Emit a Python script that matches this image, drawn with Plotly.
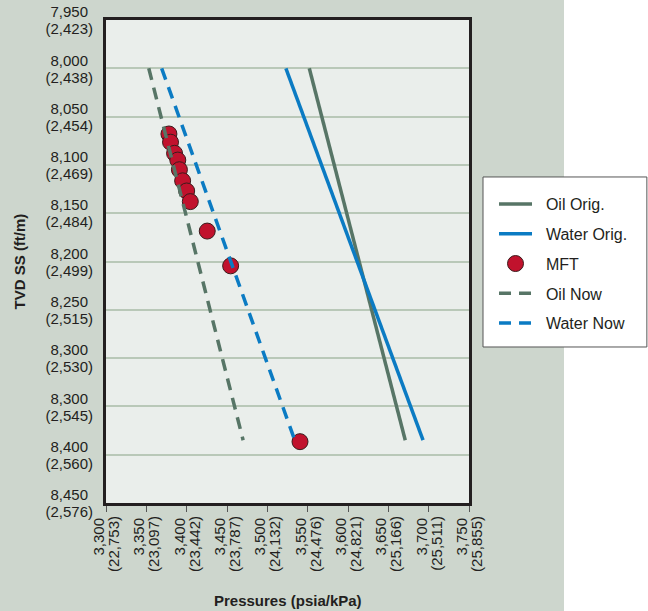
import plotly.graph_objects as go

# ---- data ----
depth_ends = [8000, 8385]
oil_orig_p = [3552, 3671]
water_orig_p = [3523, 3693]
oil_now_p = [3353, 3470]
water_now_p = [3369, 3534]

mft_p = [3378, 3380, 3385, 3389, 3391, 3395, 3400, 3404.5, 3425.5, 3454.5, 3540.5]
mft_d = [8068, 8076.5, 8088, 8095, 8105, 8116.5, 8127, 8138, 8168.5, 8204.5, 8386.5]

x_tick_vals = [3300, 3350, 3400, 3450, 3500, 3550, 3600, 3650, 3700, 3750]
x_tick_psia = ["3,300", "3,350", "3,400", "3,450", "3,500", "3,550", "3,600", "3,650", "3,700", "3,750"]
x_tick_kpa = ["(22,753)", "(23,097)", "(23,442)", "(23,787)", "(24,132)", "(24,476)", "(24,821)",
              "(25,166)", "(25,511)", "(25,855)"]
y_tick_vals = [7950, 8000, 8050, 8100, 8150, 8200, 8250, 8300, 8350, 8400, 8450]
y_tick_ft = ["7,950", "8,000", "8,050", "8,100", "8,150", "8,200", "8,250", "8,300", "8,300", "8,400", "8,450"]
y_tick_m = ["(2,423)", "(2,438)", "(2,454)", "(2,469)", "(2,484)", "(2,499)", "(2,515)", "(2,530)",
            "(2,545)", "(2,560)", "(2,576)"]

OIL = "#577566"
WATER = "#0b7bc3"
RED = "#c1122d"
INK = "#231f20"
FONT = "Liberation Sans, Arial, sans-serif"
NB = "\u00a0\u00a0"

fig = go.Figure()
fig.add_trace(go.Scatter(x=oil_orig_p, y=depth_ends, mode="lines", name=NB + "Oil Orig.",
                         line=dict(color=OIL, width=3.5), legendgroup="a"))
fig.add_trace(go.Scatter(x=water_orig_p, y=depth_ends, mode="lines", name=NB + "Water Orig.",
                         line=dict(color=WATER, width=3.5), legendgroup="b"))
fig.add_trace(go.Scatter(x=mft_p, y=mft_d, mode="markers", name=NB + "MFT",
                         marker=dict(color=RED, size=16, line=dict(color="#3a1c1c", width=1)),
                         legendgroup="c"))
fig.add_trace(go.Scatter(x=oil_now_p, y=depth_ends, mode="lines", name=NB + "Oil Now",
                         line=dict(color=OIL, width=3.5, dash="12px,8px"), legendgroup="d"))
fig.add_trace(go.Scatter(x=water_now_p, y=depth_ends, mode="lines", name=NB + "Water Now",
                         line=dict(color=WATER, width=3.5, dash="12px,8px"), legendgroup="e"))
# empty helper trace so the second (unit) axes are drawn
fig.add_trace(go.Scatter(x=[], y=[], xaxis="x2", yaxis="y2", showlegend=False, hoverinfo="skip"))

tickfont = dict(size=15, color=INK, family=FONT)
common_x = dict(range=[3300, 3750], tickvals=x_tick_vals, tickangle=-90, showgrid=False,
                zeroline=False, tickfont=tickfont, ticks="outside", ticklen=6)
common_y = dict(range=[8450, 7950], tickvals=y_tick_vals, zeroline=False, tickfont=tickfont,
                ticks="", ticklabelstandoff=12)

fig.update_layout(
    width=648, height=611,
    margin=dict(l=106, r=179, t=20, b=108, autoexpand=False),
    paper_bgcolor="#cdd6cd",
    plot_bgcolor="#eaeeeb",
    font=dict(family=FONT, size=14, color=INK),
    showlegend=True,
    legend=dict(x=1.0689, y=0.6542, xanchor="left", yanchor="top",
                bgcolor="rgba(0,0,0,0)", borderwidth=0,
                font=dict(size=16, color=INK), tracegroupgap=6,
                itemwidth=33),
    xaxis=dict(**common_x, ticktext=x_tick_psia, tickcolor="#555555", ticklabelshift=-7,
               showline=True, mirror=True, linecolor=INK, linewidth=3),
    xaxis2=dict(**common_x, ticktext=x_tick_kpa, tickcolor="rgba(0,0,0,0)", ticklabelshift=8,
                overlaying="x", side="bottom", anchor="y", showline=False),
    yaxis=dict(**common_y, ticktext=y_tick_ft, ticklabelshift=8,
               showgrid=True, gridcolor="#b9c8b8", gridwidth=1.5,
               showline=True, mirror=True, linecolor=INK, linewidth=3),
    yaxis2=dict(**common_y, ticktext=y_tick_m, ticklabelshift=-9, showgrid=False,
                overlaying="y", side="left", anchor="x", showline=False),
    shapes=[
        dict(type="rect", xref="paper", yref="paper", x0=1.2617, x1=2, y0=-1, y1=2,
             fillcolor="#ffffff", line=dict(width=0), layer="below"),
        dict(type="rect", xref="paper", yref="paper", x0=1.0386, x1=1.490, y0=0.3230, y1=0.675,
             fillcolor="#ffffff", line=dict(color="#555555", width=1), layer="above"),
    ],
    annotations=[
        dict(text="<b>Pressures (psia/kPa)</b>", xref="paper", yref="paper", x=0.5, y=-0.202,
             xanchor="center", yanchor="middle", showarrow=False, font=dict(size=15)),
        dict(text="<b>TVD SS (ft/m)</b>", xref="paper", yref="paper", x=-0.237, y=0.5,
             xanchor="center", yanchor="middle", showarrow=False, textangle=-90,
             font=dict(size=15)),
    ],
)

fig.write_html("out.html", config={"displayModeBar": False},
               post_script="document.body.style.margin='0';")
